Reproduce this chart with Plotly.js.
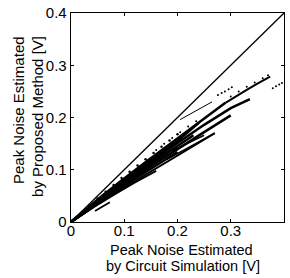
<!DOCTYPE html>
<html><head><meta charset="utf-8">
<script src="https://cdn.plot.ly/plotly-3.0.1.min.js"></script>
<style>html,body{margin:0;padding:0;background:#fff}#c{width:290px;height:278px}</style>
</head><body><div id="c"></div>
<script>
// reference diagonal y = x
const diagX = [0, 0.4];
const diagY = [0, 0.4];

// solid streaks (circuit simulation vs proposed method)
const l1X = [0, 0.05, 0.10, 0.15, 0.20, 0.25, 0.29];
const l1Y = [0, 0.042, 0.083, 0.122, 0.160, 0.197, 0.228];
const l2X = [0, 0.05, 0.10, 0.15, 0.20, 0.25, 0.30, 0.336];
const l2Y = [0, 0.040, 0.078, 0.115, 0.151, 0.186, 0.218, 0.235];
const l3X = [0, 0.05, 0.10, 0.15, 0.20, 0.25, 0.30];
const l3Y = [0, 0.037, 0.073, 0.107, 0.140, 0.172, 0.204];
const l4X = [0, 0.05, 0.10, 0.15, 0.20, 0.27];
const l4Y = [0, 0.034, 0.066, 0.097, 0.128, 0.170];
const l5X = [0, 0.04, 0.08, 0.12, 0.16];
const l5Y = [0, 0.027, 0.052, 0.076, 0.098];
const l6X = [0.045, 0.073];
const l6Y = [0.021, 0.038];
const l7X = [0.18, 0.27];
const l7Y = [0.120, 0.170];
const l8X = [0.205, 0.265];
const l8Y = [0.196, 0.230];
const l9X = [0.29, 0.31, 0.33, 0.35, 0.374];
const l9Y = [0.228, 0.241, 0.253, 0.265, 0.278];
const l10X = [0.19, 0.22, 0.25];
const l10Y = [0.136, 0.151, 0.166];
const l11X = [0.0, 0.03, 0.06, 0.09, 0.12, 0.15];
const l11Y = [0.0, 0.026, 0.051, 0.075, 0.098, 0.121];
const l12X = [0, 0.05, 0.10, 0.15, 0.20, 0.24];
const l12Y = [0, 0.041, 0.080, 0.118, 0.155, 0.190];
const l13X = [0, 0.05, 0.10, 0.15, 0.20, 0.23];
const l13Y = [0, 0.0385, 0.0755, 0.111, 0.1455, 0.166];
const l14X = [0, 0.05, 0.10, 0.15, 0.20];
const l14Y = [0, 0.0355, 0.0695, 0.102, 0.134];

// dotted streaks / scattered points
const d1X = [0.02, 0.035, 0.05, 0.065, 0.08, 0.095, 0.11, 0.125, 0.14, 0.155, 0.17, 0.185, 0.20];
const d1Y = [0.018, 0.031, 0.045, 0.058, 0.071, 0.084, 0.096, 0.108, 0.120, 0.132, 0.144, 0.156, 0.168];
const d2X = [0.276, 0.283, 0.289, 0.296, 0.302];
const d2Y = [0.243, 0.247, 0.250, 0.254, 0.258];
const d3X = [0.379, 0.385, 0.391, 0.396];
const d3Y = [0.256, 0.260, 0.263, 0.266];
const d4X = [0.30, 0.315, 0.33, 0.345, 0.36, 0.37];
const d4Y = [0.240, 0.250, 0.259, 0.267, 0.275, 0.281];
const d5X = [0.16, 0.175, 0.19, 0.205, 0.22, 0.235];
const d5Y = [0.138, 0.150, 0.161, 0.172, 0.183, 0.193];

const xTicks = [0, 0.1, 0.2, 0.3, 0.4];
const xTickText = ['0', '0.1', '0.2', '0.3', '0.4'];
const yTicks = [0, 0.1, 0.2, 0.3, 0.4];
const yTickText = ['0', '0.1', '0.2', '0.3', '0.4'];
const xTitleLines = ['Peak Noise Estimated', 'by Circuit Simulation [V]'];
const yTitleLines = ['Peak Noise Estimated', 'by Proposed Method [V]'];

const line = (x, y, w) => ({x, y, mode: 'lines', type: 'scatter', line: {color: '#000', width: w}, hoverinfo: 'skip'});
const dots = (x, y, s) => ({x, y, mode: 'markers', type: 'scatter', marker: {color: '#000', size: s}, hoverinfo: 'skip'});

const data = [
  line(diagX, diagY, 1.3),
  line(l1X, l1Y, 2.5),
  line(l2X, l2Y, 2.5),
  line(l3X, l3Y, 2.5),
  line(l4X, l4Y, 2),
  line(l5X, l5Y, 2),
  line(l6X, l6Y, 1.8),
  line(l7X, l7Y, 1.5),
  line(l8X, l8Y, 1),
  line(l9X, l9Y, 2),
  line(l10X, l10Y, 1.5),
  line(l11X, l11Y, 3),
  line(l12X, l12Y, 2.5),
  line(l13X, l13Y, 2.5),
  line(l14X, l14Y, 2.5),
  dots(d1X, d1Y, 2.5),
  dots(d2X, d2Y, 2),
  dots(d3X, d3Y, 2),
  dots(d4X, d4Y, 2),
  dots(d5X, d5Y, 2)
];

const fam = 'Liberation Sans, Arial, Helvetica, sans-serif';
const tickFont = {family: fam, size: 15, color: '#000'};
const ann = (text, x, y, angle, size) => ({
  text, x, y, xref: 'paper', yref: 'paper', showarrow: false,
  xanchor: 'center', yanchor: 'middle', textangle: angle, borderpad: 0,
  font: {family: fam, size: size, color: '#000'}
});
const layout = {
  width: 290, height: 278,
  margin: {l: 71, r: 6, t: 13, b: 56},
  paper_bgcolor: '#fff', plot_bgcolor: '#fff',
  showlegend: false,
  font: tickFont,
  xaxis: {
    range: [0, 0.4], tickvals: xTicks, ticktext: xTickText,
    ticks: 'inside', ticklen: 3, tickcolor: '#000', showgrid: false, zeroline: false,
    showline: true, linecolor: '#000', linewidth: 1.3, mirror: 'ticks',
    tickfont: tickFont, ticklabelstandoff: -5
  },
  yaxis: {
    range: [0, 0.4], tickvals: yTicks, ticktext: yTickText,
    ticks: 'inside', ticklen: 3, tickcolor: '#000', showgrid: false, zeroline: false,
    showline: true, linecolor: '#000', linewidth: 1.3, mirror: 'ticks',
    tickfont: tickFont
  },
  annotations: [
    ann(xTitleLines[0], 0.521, -0.1316, 0, 14.5),
    ann(xTitleLines[1], 0.525, -0.2105, 0, 14.5),
    ann(yTitleLines[0], -0.244, 0.536, -90, 15),
    ann(yTitleLines[1], -0.160, 0.507, -90, 15)
  ]
};
Plotly.newPlot('c', data, layout, {displayModeBar: false, staticPlot: true});
</script></body></html>
